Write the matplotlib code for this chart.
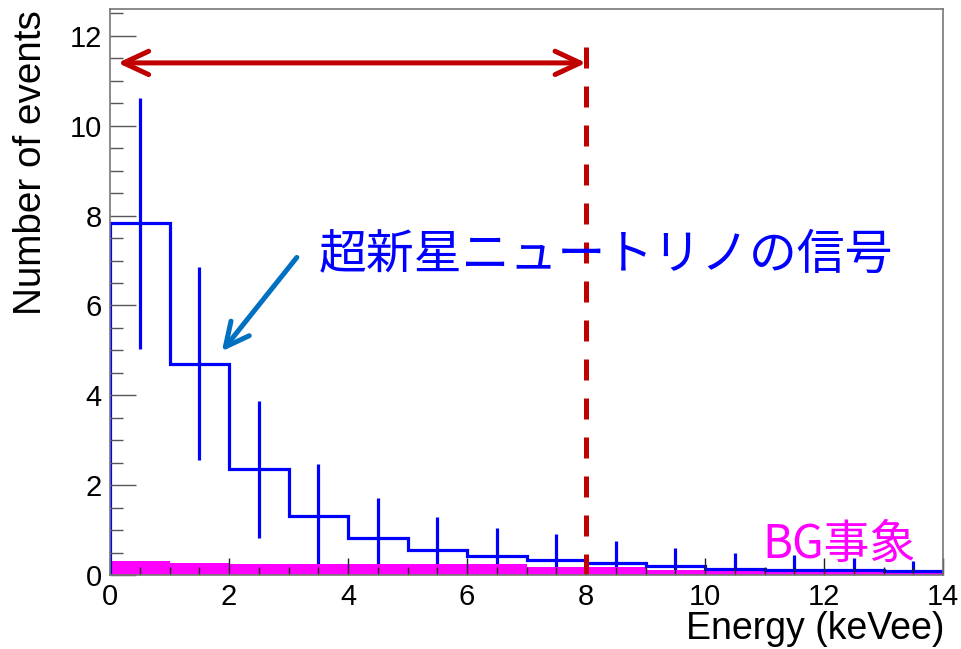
import numpy as np
import matplotlib
matplotlib.use("Agg")
import matplotlib.pyplot as plt
from matplotlib.ticker import MultipleLocator

# histogram bins (keVee)
edges = np.arange(0, 15, 1)
centers = edges[:-1] + 0.5

# supernova neutrino signal + its error bars
signal = [7.83, 4.70, 2.35, 1.32, 0.83, 0.55, 0.42, 0.33, 0.26, 0.20, 0.13, 0.12, 0.11, 0.10]
sig_err = [2.79, 2.15, 1.53, 1.15, 0.88, 0.75, 0.62, 0.58, 0.50, 0.40, 0.37, 0.32, 0.27, 0.21]

# background
bg = [0.32, 0.27, 0.24, 0.24, 0.24, 0.24, 0.24, 0.18, 0.18, 0.12, 0.11, 0.09, 0.08, 0.08]

cut = 8.0
arrow_y = 11.4

plt.rcParams['font.family'] = ['Liberation Sans', 'DejaVu Sans']
jp = ['Noto Sans CJK JP', 'DejaVu Sans']

fig = plt.figure(figsize=(9.62, 6.49), dpi=100)
ax = fig.add_axes([110/962, 1-575/649, (943-110)/962, (575-9)/649])

blue = '#0000FF'
mag = '#FF00FF'
red = '#C00000'

sig = np.array(signal)
err = np.array(sig_err)
lo = np.minimum(err, sig)  # clip at zero like ROOT
ax.errorbar(centers, sig, yerr=[lo, err], fmt='none', ecolor=blue, elinewidth=2.3, capsize=0, zorder=1.8)
ax.stairs(bg, edges, fill=True, color=mag, zorder=2)
ax.stairs(signal, edges, color=blue, lw=2.3, zorder=2.1)

# energy cut
ax.plot([cut, cut], [0, 12.15], color=red, lw=3.6, dashes=(4.2, 3.6), zorder=3)
ax.annotate('', xy=(0.13, arrow_y), xytext=(cut, arrow_y),
            arrowprops=dict(arrowstyle='<->,head_length=0.9,head_width=0.42', color=red, lw=3.6,
                            mutation_scale=20, shrinkA=0, shrinkB=0), zorder=3)

# labels
ax.annotate('', xy=(1.88, 4.98), xytext=(3.14, 7.07),
            arrowprops=dict(arrowstyle='->,head_length=0.85,head_width=0.42', color='#0070C0', lw=3.6,
                            mutation_scale=20, shrinkA=0, shrinkB=0), zorder=3)
ax.text(3.5, 7.11, '超新星ニュートリノの信号', color=blue, fontsize=34.5, family=jp,
        ha='left', va='center', zorder=4)
ax.text(10.97, 0.68, 'BG事象', color=mag, fontsize=33, family=jp, ha='left', va='center', zorder=4)

ax.set_xlim(0, 14)
ax.set_ylim(0, 12.6)
ax.xaxis.set_major_locator(MultipleLocator(2))
ax.xaxis.set_minor_locator(MultipleLocator(0.5))
ax.yaxis.set_major_locator(MultipleLocator(2))
ax.yaxis.set_minor_locator(MultipleLocator(0.5))
ax.tick_params(axis='x', which='major', direction='in', length=12, width=1, color='#222', labelsize=21, pad=6)
ax.tick_params(axis='x', which='minor', direction='in', length=6, width=1, color='#222')
ax.tick_params(axis='y', which='major', direction='in', length=19, width=1, color='#555', labelsize=21, pad=6)
ax.tick_params(axis='y', which='minor', direction='in', length=9.5, width=1, color='#555')
ax.set_axisbelow(False)
for s in ax.spines.values():
    s.set_color('#777')
    s.set_linewidth(1.2)
    s.set_zorder(5)

fig.text(945/962, 1-639/649, 'Energy (keVee)', fontsize=27, ha='right', va='baseline')
fig.text(31/962, 1-10/649, 'Number of events', fontsize=27.8, rotation=90, ha='center', va='top')

fig.savefig('out.png', dpi=100)
